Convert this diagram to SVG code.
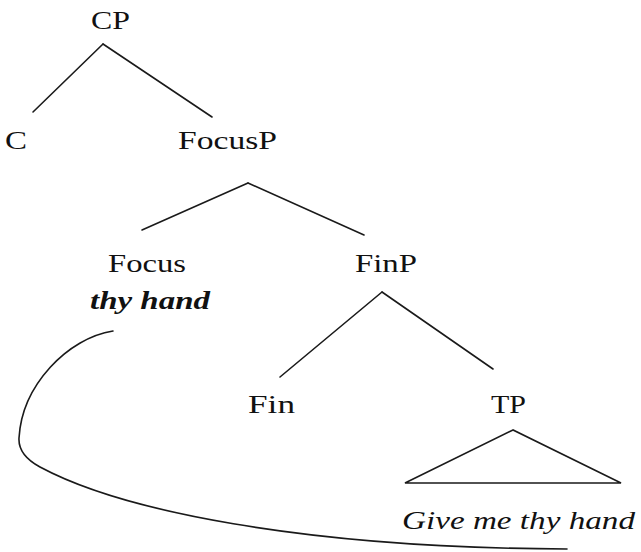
<svg xmlns="http://www.w3.org/2000/svg" width="641" height="552" viewBox="0 0 641 552">
<style>
  .lbl { font-family: "Liberation Serif", "Times New Roman", serif; font-size: 26px; fill: #111; }
  .it { font-style: italic; }
  .bi { font-style: italic; font-weight: bold; }
  .edge { stroke: #1a1a1a; stroke-width: 1.6; fill: none; stroke-linecap: round; }
</style>
<rect width="641" height="552" fill="#ffffff"/>
<g id="connectors">
  <line class="edge" x1="103" y1="44" x2="33" y2="112"/>
  <line class="edge" x1="103" y1="44" x2="212" y2="117"/>
  <line class="edge" x1="248" y1="183" x2="142" y2="230"/>
  <line class="edge" x1="248" y1="183" x2="364" y2="235"/>
  <line class="edge" x1="382" y1="292" x2="280" y2="377"/>
  <line class="edge" x1="382" y1="292" x2="493" y2="369"/>
  <polygon class="edge" points="513,430 405,483 621,483" stroke-linejoin="miter"/>
  <path class="edge" d="M113,331 C68,338 22,385 19,438 Q18,455 40,467 C120,510 300,548 567,549"/>
</g>
<g id="node-CP"><text class="lbl" x="91" y="29" textLength="39" lengthAdjust="spacingAndGlyphs">CP</text></g>
<g id="node-C"><text class="lbl" x="5" y="149" textLength="22" lengthAdjust="spacingAndGlyphs">C</text></g>
<g id="node-FocusP"><text class="lbl" x="178" y="149" textLength="99" lengthAdjust="spacingAndGlyphs">FocusP</text></g>
<g id="node-Focus">
  <text class="lbl" x="108" y="272" textLength="78" lengthAdjust="spacingAndGlyphs">Focus</text>
  <text class="lbl bi" x="90" y="309" textLength="120" lengthAdjust="spacingAndGlyphs">thy hand</text>
</g>
<g id="node-FinP"><text class="lbl" x="355" y="272" textLength="62" lengthAdjust="spacingAndGlyphs">FinP</text></g>
<g id="node-Fin"><text class="lbl" x="248" y="413" textLength="47" lengthAdjust="spacingAndGlyphs">Fin</text></g>
<g id="node-TP"><text class="lbl" x="491" y="413" textLength="35" lengthAdjust="spacingAndGlyphs">TP</text></g>
<g id="node-TP-content"><text class="lbl it" x="402" y="529" textLength="233" lengthAdjust="spacingAndGlyphs">Give me thy hand</text></g>
</svg>
